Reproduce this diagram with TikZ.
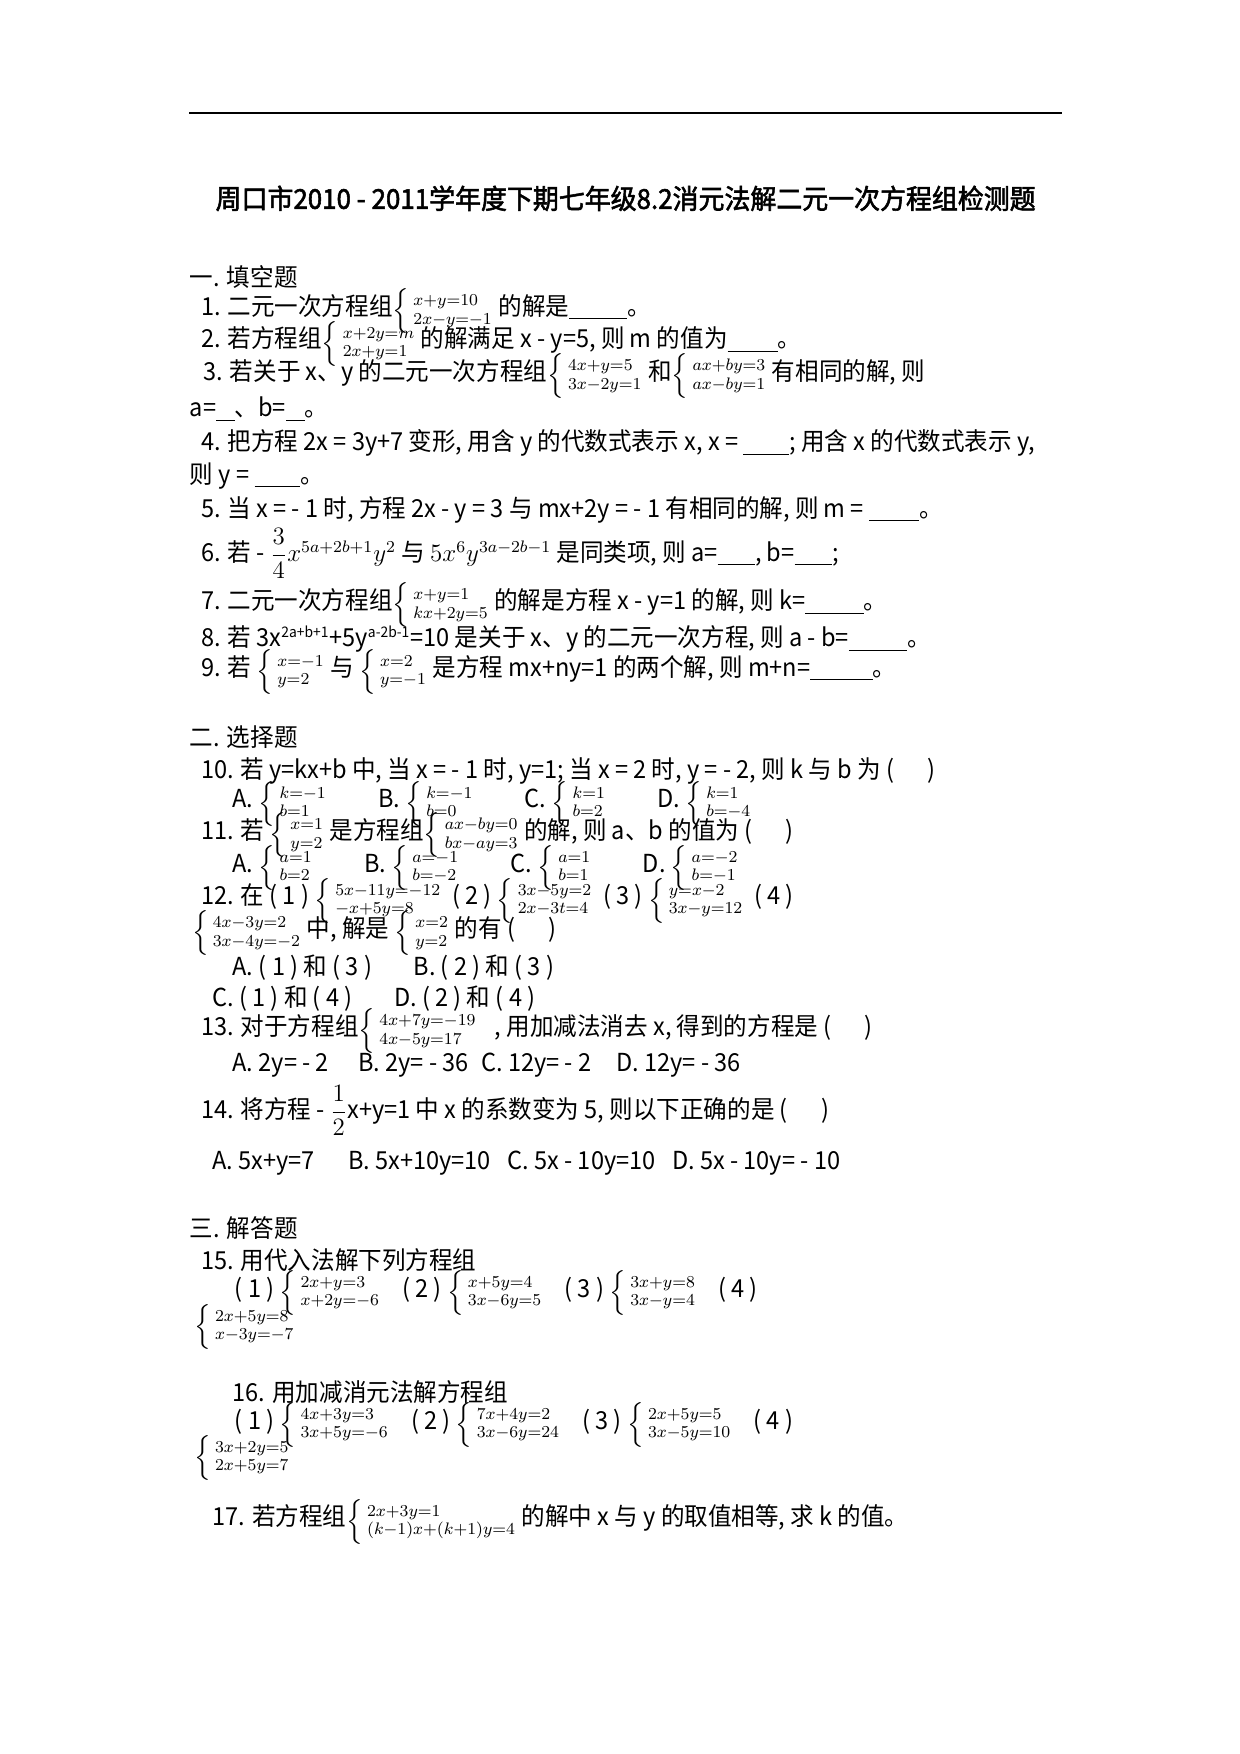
\documentclass[tikz,border=0pt]{standalone}
\usepackage{fontspec}
\usepackage{amsmath}
\setmainfont{Noto Sans CJK SC}[FakeStretch=0.95]
\newfontfamily\titlefont{Noto Sans CJK SC}[FakeStretch=0.95,FakeBold=2]
\usetikzlibrary{positioning}
% small equation systems and blanks
\newcommand\sy[2]{\raisebox{-1pt}{$\left\{\renewcommand\arraystretch{0.68}\begin{array}{@{\,}l@{\,}}\scriptstyle #1\\\scriptstyle #2\end{array}\right.$}}
\newcommand\bl[1]{\underline{\hspace{#1}}}
\tikzset{
	ln/.style={anchor=west, inner sep=0pt, font=\fontsize{11.9}{13}\selectfont},
	sec/.style={ln},
}
\begin{document}
\begin{tikzpicture}[x=0.541pt, y=-0.541pt]
		\useasboundingbox (0,0) rectangle (1100,1556);
		% 顶部横线
		\coordinate (rl) at (168,100);
		\coordinate (rr) at (942,100);
		\draw[line width=0.8pt] (rl) -- (rr);
		% 标题
		\node[font=\titlefont\fontsize{13.1}{15}\selectfont, inner sep=0pt] (title) at (555,176) {周口市2010 - 2011学年度下期七年级8.2消元法解二元一次方程组检测题};

		% 一. 填空题
		\node[sec] (s1) at (168,246) {一. 填空题};
		\node[ln] (q1) at (178,276) {1. 二元一次方程组\sy{x+y=10}{2x-y=-1}的解是\bl{28pt}。};
		\node[ln] (q2) at (178,305) {2. 若方程组\sy{x+2y=m}{2x+y=1}的解满足 x - y=5, 则 m 的值为\bl{24pt}。};
		\node[ln] (q3) at (180,334) {3. 若关于 x、y 的二元一次方程组\sy{4x+y=5}{3x-2y=1}和\sy{ax+by=3}{ax-by=1}有相同的解, 则};
		\node[ln] (q3b) at (168,363) {a=\bl{9pt}、b=\bl{9pt}。};
		\node[ln] (q4) at (178,393) {4. 把方程 2x = 3y+7 变形, 用含 y 的代数式表示 x, x = \bl{22pt}; 用含 x 的代数式表示 y,};
		\node[ln] (q4b) at (168,422) {则 y = \bl{22pt}。};
		\node[ln] (q5) at (178,452) {5. 当 x = - 1 时, 方程 2x - y = 3 与 mx+2y = - 1 有相同的解, 则 m = \bl{24pt}。};
		\node[ln] (q6) at (178,491) {6. 若 - $\dfrac{3}{4}x^{5a+2b+1}y^{2}$ 与 $5x^{6}y^{3a-2b-1}$ 是同类项, 则 a=\bl{18pt}, b=\bl{18pt};};
		\node[ln] (q7) at (178,537) {7. 二元一次方程组\sy{x+y=1}{kx+2y=5}的解是方程 x - y=1 的解, 则 k=\bl{28pt}。};
		\node[ln] (q8) at (178,567) {8. 若 3x$^{\text{\scriptsize 2a+b+1}}$+5y$^{\text{\scriptsize a-2b-1}}$=10 是关于 x、y 的二元一次方程, 则 a - b=\bl{28pt}。};
		\node[ln] (q9) at (178,596) {9. 若 \sy{x=-1}{y=2}与 \sy{x=2}{y=-1}是方程 mx+ny=1 的两个解, 则 m+n=\bl{30pt}。};

		% 二. 选择题
		\node[sec] (s2) at (168,654) {二. 选择题};
		\node[ln] (q10) at (178,684) {10. 若 y=kx+b 中, 当 x = - 1 时, y=1; 当 x = 2 时, y = - 2, 则 k 与 b 为 (\hspace{16pt})};
		\node[ln] (q10a) at (206,713) {A. \sy{k=-1}{b=1}\hspace{22pt}B. \sy{k=-1}{b=0}\hspace{22pt}C. \sy{k=1}{b=2}\hspace{22pt}D. \sy{k=1}{b=-4}};
		\node[ln] (q11) at (178,741) {11. 若 \sy{x=1}{y=2}是方程组\sy{ax-by=0}{bx-ay=3}的解, 则 a、b 的值为 (\hspace{16pt})};
		\node[ln] (q11a) at (206,770) {A. \sy{a=1}{b=2}\hspace{22pt}B. \sy{a=-1}{b=-2}\hspace{22pt}C. \sy{a=1}{b=1}\hspace{22pt}D. \sy{a=-2}{b=-1}};
		\node[ln] (q12) at (178,799) {12. 在 ( 1 ) \sy{5x-11y=-12}{-x+5y=8} ( 2 ) \sy{3x-5y=2}{2x-3t=4} ( 3 ) \sy{y=x-2}{3x-y=12} ( 4 )};
		\node[ln] (q12b) at (170,828) {\sy{4x-3y=2}{3x-4y=-2}中, 解是 \sy{x=2}{y=2}的有 (\hspace{16pt})};
		\node[ln] (q12a) at (206,858) {A. ( 1 ) 和 ( 3 )\hspace{20pt}B. ( 2 ) 和 ( 3 )};
		\node[ln] (q12c) at (188,886) {C. ( 1 ) 和 ( 4 )\hspace{20pt}D. ( 2 ) 和 ( 4 )};
		\node[ln] (q13) at (178,915) {13. 对于方程组\sy{4x+7y=-19}{4x-5y=17}\hspace{6pt}, 用加减法消去 x, 得到的方程是 (\hspace{16pt})};
		\node[ln] (q13a) at (206,945) {A. 2y= - 2\hspace{14pt}B. 2y= - 36\hspace{6pt}C. 12y= - 2\hspace{12pt}D. 12y= - 36};
		\node[ln] (q14) at (178,985) {14. 将方程 - $\dfrac{1}{2}$x+y=1 中 x 的系数变为 5, 则以下正确的是 (\hspace{16pt})};
		\node[ln] (q14a) at (188,1032) {A. 5x+y=7\hspace{16pt}B. 5x+10y=10\hspace{8pt}C. 5x - 10y=10\hspace{8pt}D. 5x - 10y= - 10};

		% 三. 解答题
		\node[sec] (s3) at (168,1089) {三. 解答题};
		\node[ln] (q15) at (178,1118) {15. 用代入法解下列方程组};
		\node[ln] (q15a) at (208,1147) {( 1 ) \sy{2x+y=3}{x+2y=-6}\hspace{8pt}( 2 ) \sy{x+5y=4}{3x-6y=5}\hspace{8pt}( 3 ) \sy{3x+y=8}{3x-y=4}\hspace{8pt}( 4 )};
		\node[ln] (q15b) at (172,1177) {\sy{2x+5y=8}{x-3y=-7}};
		\node[ln] (q16) at (206,1235) {16. 用加减消元法解方程组};
		\node[ln] (q16a) at (208,1264) {( 1 ) \sy{4x+3y=3}{3x+5y=-6}\hspace{8pt}( 2 ) \sy{7x+4y=2}{3x-6y=24}\hspace{8pt}( 3 ) \sy{2x+5y=5}{3x-5y=10}\hspace{8pt}( 4 )};
		\node[ln] (q16b) at (172,1293) {\sy{3x+2y=5}{2x+5y=7}};
		\node[ln] (q17) at (188,1350) {17. 若方程组\sy{2x+3y=1}{(k-1)x+(k+1)y=4}的解中 x 与 y 的取值相等, 求 k 的值。};
	\end{tikzpicture}
\end{document}
